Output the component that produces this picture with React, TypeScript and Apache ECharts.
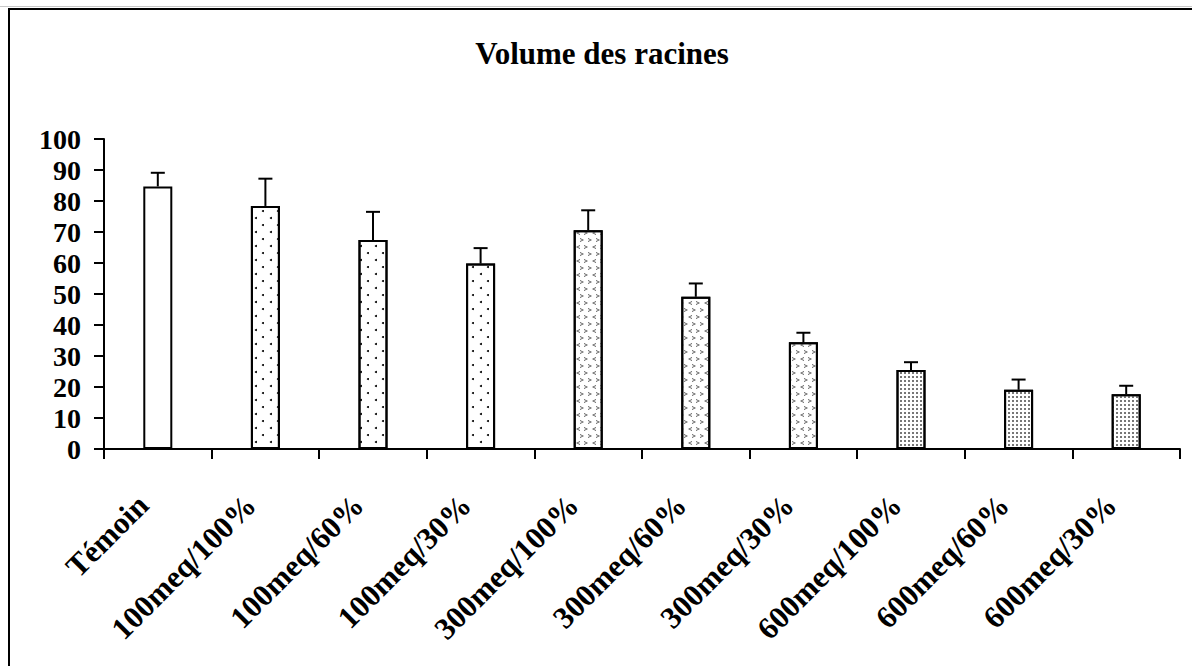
import React, { useEffect, useRef } from "react";
import * as echarts from "echarts";

const categories = [
  "Témoin",
  "100meq/100%",
  "100meq/60%",
  "100meq/30%",
  "300meq/100%",
  "300meq/60%",
  "300meq/30%",
  "600meq/100%",
  "600meq/60%",
  "600meq/30%",
];
const values = [84.7, 78.4, 67.4, 59.8, 70.6, 49.1, 34.4, 25.5, 19.1, 17.7];
const errors = [4.4, 8.8, 9.1, 5.0, 6.4, 4.3, 3.1, 2.5, 3.3, 2.7];
const patterns = ["none", "dots", "dots", "dots", "chevron", "chevron", "chevron", "dense", "dense", "dense"];
const yTicks = [0, 10, 20, 30, 40, 50, 60, 70, 80, 90, 100];

const FONT = "'Liberation Serif', 'Times New Roman', serif";

const decals: Record<string, any> = {
  none: null,
  dots: {
    symbol: "circle",
    symbolSize: 1,
    color: "#000",
    backgroundColor: "#fff",
    dashArrayX: [[1.6, 12.4], [0, 7, 1.6, 5.4]],
    dashArrayY: [1.6, 4.7],
  },
  chevron: {
    symbol: [
      "path://M10,0 L0,5 L10,10 L10,7.5 L4,5 L10,2.5 Z",
      "path://M0,0 L10,5 L0,10 L0,7.5 L6,5 L0,2.5 Z",
    ],
    symbolSize: 1,
    symbolKeepAspect: false,
    color: "#555",
    backgroundColor: "#fff",
    dashArrayX: [[3.5, 3.5], [0, 3.5, 3.5, 0]],
    dashArrayY: [3.5, 2.8],
  },
  dense: {
    symbol: "rect",
    symbolSize: 1,
    color: "#777",
    backgroundColor: "#e8e8e8",
    dashArrayX: [1.1, 1.2],
    dashArrayY: [1.1, 1.2],
  },
};

export default function App() {
  const ref = useRef<HTMLDivElement>(null);
  useEffect(() => {
    if (!ref.current) return;
    const chart = echarts.init(ref.current, null, { renderer: "svg" });
    const barData = values.map((v, i) => {
      const d = decals[patterns[i]];
      const item: any = {
        value: v,
        itemStyle: { color: "#fff", borderColor: "#000", borderWidth: 2 },
      };
      if (d) item.itemStyle.decal = d;
      return item;
    });
    const errData = values.map((v, i) => [i, v, errors[i]]);
    chart.setOption({
      animation: false,
      backgroundColor: "#fff",
      title: {
        text: "Volume des racines",
        left: 597,
        top: 33,
        textAlign: "center",
        textStyle: { fontFamily: FONT, fontWeight: "bold", fontSize: 31, color: "#000" },
      },
      graphic: [
        {
          type: "line",
          shape: { x1: 0, y1: 6.5, x2: 1192, y2: 6.5 },
          style: { stroke: "#c8c8c8", lineWidth: 1 },
          silent: true,
        },
        {
          type: "rect",
          shape: { x: 9, y: 9, width: 1300, height: 800 },
          style: { fill: "none", stroke: "#000", lineWidth: 2 },
          silent: true,
        },
      ],
      grid: { left: 104, right: 12, top: 139, bottom: 217, containLabel: false },
      xAxis: {
        type: "category",
        data: categories,
        boundaryGap: true,
        axisLine: { lineStyle: { color: "#000", width: 2 } },
        axisTick: { show: true, length: 10, alignWithLabel: false, lineStyle: { color: "#000", width: 2 } },
        axisLabel: {
          interval: 0,
          rotate: 45,
          margin: 36,
          padding: [0, 21, 0, 0],
          fontFamily: FONT,
          fontWeight: "bold",
          fontSize: 31,
          color: "#000",
        },
      },
      yAxis: {
        type: "value",
        min: 0,
        max: 100,
        interval: 10,
        splitLine: { show: false },
        axisLine: { show: true, lineStyle: { color: "#000", width: 2 } },
        axisTick: { show: true, length: 10, lineStyle: { color: "#000", width: 2 } },
        axisLabel: {
          margin: 23,
          fontFamily: FONT,
          fontWeight: "bold",
          fontSize: 28,
          color: "#000",
          formatter: (v: number) => (yTicks.includes(v) ? String(v) : ""),
        },
      },
      series: [
        {
          type: "bar",
          data: barData,
          barWidth: 29,
          z: 2,
        },
        {
          type: "custom",
          data: errData,
          z: 3,
          encode: { x: 0, y: 1 },
          renderItem: (params: any, api: any) => {
            const x = api.value(0);
            const v = api.value(1);
            const e = api.value(2);
            const base = api.coord([x, v]);
            const top = api.coord([x, v + e]);
            return {
              type: "group",
              children: [
                {
                  type: "line",
                  shape: { x1: base[0], y1: base[1], x2: top[0], y2: top[1] },
                  style: { stroke: "#000", lineWidth: 2 },
                },
                {
                  type: "line",
                  shape: { x1: top[0] - 7, y1: top[1], x2: top[0] + 7, y2: top[1] },
                  style: { stroke: "#000", lineWidth: 2 },
                },
              ],
            };
          },
        },
      ],
    });
    return () => chart.dispose();
  }, []);
  return (
    <div
      ref={ref}
      style={{ position: "fixed", left: 0, top: 0, width: 1192, height: 666, background: "#fff" }}
    />
  );
}
